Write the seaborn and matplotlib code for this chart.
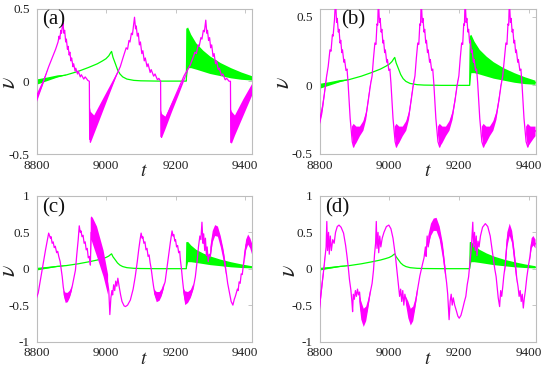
import numpy as np
import matplotlib
matplotlib.use("Agg")
import matplotlib.pyplot as plt
import seaborn as sns

NA = float("nan")

# ---------------- green signal (same in all panels) ----------------
g_t = [8800, 8830, 8860, 8885, 8920, 8950, 8975, 8990, 9000, 9008, 9013, 9016, 9020, 9027, 9033,
       9040, 9048, 9060, 9080, 9100, 9150, 9200, 9231, 9233, 9240, 9260, 9300, 9360, 9420]
g_v = [-0.006, 0.012, 0.032, 0.043, 0.068, 0.095, 0.12, 0.14, 0.155, 0.175, 0.195, 0.205, 0.165, 0.12, 0.08,
       0.05, 0.03, 0.015, 0.006, 0.003, 0.001, 0.001, 0.001, 0.36, 0.2, 0.17, 0.11, 0.055, 0.02]
g_bt = [8800, 8830, 8860, 8885, 8890, 9232, 9236, 9245, 9260, 9280, 9300, 9330, 9360, 9390, 9420]
g_lo = [-0.025, 0.0, 0.025, 0.041, NA, 0.0, 0.09, 0.09, 0.08, 0.065, 0.05, 0.035, 0.02, 0.01, 0.005]
g_hi = [0.012, 0.025, 0.04, 0.045, NA, 0.36, 0.37, 0.32, 0.26, 0.21, 0.17, 0.125, 0.09, 0.06, 0.035]

# ---------------- panel (a) magenta ----------------
a_t = [8800, 8818, 8835, 8845, 8855, 8862, 8865, 8867, 8870, 8872, 8874, 8876,
       8879, 8881, 8884, 8886, 8889, 8891, 8894, 8896, 8899, 8901, 8905, 8907, 8911, 8913, 8918, 8920,
       8926, 8929, 8936, 8940, 8948, 8952,
       8953, 8960, 8980, 9000, 9020, 9041,
       9050, 9058, 9062, 9066, 9069, 9073, 9076, 9079, 9082,
       9085, 9087, 9090, 9093, 9096, 9099, 9103, 9106, 9110, 9113, 9118, 9121, 9127, 9130, 9137, 9141,
       9148, 9152, 9157,
       9158, 9165, 9185, 9205, 9225, 9242,
       9250, 9256, 9260, 9265, 9268, 9273, 9276, 9280, 9283, 9287,
       9290, 9292, 9295, 9298, 9301, 9304, 9308, 9311, 9315, 9318, 9323, 9326, 9332, 9336, 9343, 9347,
       9354, 9358,
       9359, 9370, 9395, 9420]
a_v = [-0.12, -0.015, 0.10, 0.16, 0.22, 0.27, 0.31, 0.29, 0.35, 0.33, 0.37, 0.40,
       0.33, 0.35, 0.27, 0.29, 0.22, 0.24, 0.18, 0.20, 0.14, 0.16, 0.10, 0.12, 0.07, 0.09, 0.05, 0.07,
       0.03, 0.045, 0.015, 0.03, 0.005, 0.0,
       -0.40, -0.30, -0.22, -0.12, -0.01, 0.10,
       0.17, 0.23, 0.22, 0.28, 0.27, 0.33, 0.32, 0.38, 0.44,
       0.36, 0.38, 0.31, 0.33, 0.25, 0.27, 0.19, 0.21, 0.14, 0.16, 0.10, 0.12, 0.06, 0.08, 0.035, 0.05,
       0.01, 0.02, 0.0,
       -0.38, -0.30, -0.18, -0.07, 0.04, 0.11,
       0.16, 0.20, 0.19, 0.25, 0.24, 0.30, 0.29, 0.35, 0.34, 0.42,
       0.33, 0.35, 0.28, 0.30, 0.23, 0.25, 0.17, 0.19, 0.12, 0.14, 0.08, 0.09, 0.04, 0.05, 0.01, 0.02,
       0.0, 0.0,
       -0.42, -0.31, -0.18, -0.06]
a_bt = [8800, 8818, 8835, 8840,
        8953, 8956, 8966, 8980, 9000, 9020, 9041, 9045,
        9158, 9161, 9171, 9190, 9210, 9230, 9242, 9246,
        9359, 9362, 9371, 9395, 9420]
a_lo = [-0.15, -0.03, 0.10, NA,
        -0.42, -0.425, -0.363, -0.277, -0.153, -0.029, 0.10, NA,
        -0.39, -0.39, -0.33, -0.21, -0.09, 0.035, 0.11, NA,
        -0.42, -0.43, -0.374, -0.24, -0.10]
a_hi = [-0.09, 0.0, 0.10, NA,
        -0.17, -0.21, -0.235, -0.172, -0.083, 0.006, 0.10, NA,
        -0.20, -0.225, -0.243, -0.148, -0.048, 0.05, 0.11, NA,
        -0.19, -0.21, -0.235, -0.125, -0.02]

# ---------------- panel (b) magenta ----------------
b_t = [8800, 8808, 8814, 8820, 8825, 8830, 8833, 8837, 8839, 8843, 8846,
       8849, 8851, 8854, 8856, 8859, 8861, 8864, 8866, 8870, 8872, 8876, 8879, 8882, 8888, 8894, 8898,
       8906, 8916, 8926, 8934, 8940, 8946, 8951,
       8955, 8959, 8962, 8965, 8967, 8969,
       8972, 8974, 8977, 8979, 8982, 8984, 8987, 8989, 8993, 8995, 8999, 9002, 9005, 9011, 9017, 9021,
       9029, 9039, 9049, 9057, 9063, 9069, 9074,
       9078, 9082, 9085, 9088, 9090, 9092,
       9095, 9097, 9100, 9102, 9105, 9107, 9110, 9112, 9116, 9118, 9122, 9125, 9128, 9134, 9140, 9145,
       9153, 9163, 9173, 9182, 9189, 9195, 9200,
       9204, 9208, 9211, 9214, 9216, 9218,
       9221, 9223, 9226, 9228, 9231, 9233, 9236, 9238, 9242, 9244, 9248, 9251, 9254, 9260, 9266, 9271,
       9279, 9289, 9299, 9308, 9315, 9321, 9326,
       9331, 9335, 9338, 9341, 9343, 9345,
       9348, 9350, 9353, 9355, 9358, 9360, 9363, 9365, 9369, 9371, 9375, 9378, 9381, 9387, 9393, 9398,
       9406, 9414, 9420]
b_v = [-0.27, -0.17, -0.06, 0.06, 0.14, 0.26, 0.25, 0.37, 0.36, 0.48, 0.63,
       0.46, 0.49, 0.39, 0.41, 0.31, 0.33, 0.24, 0.26, 0.17, 0.19, 0.11, 0.12, 0.02, -0.24, -0.41, -0.45,
       -0.37, -0.34, -0.29, -0.21, -0.11, 0.0, 0.07,
       0.20, 0.31, 0.30, 0.45, 0.44, 0.63,
       0.46, 0.49, 0.39, 0.41, 0.31, 0.33, 0.24, 0.26, 0.17, 0.19, 0.11, 0.12, 0.02, -0.24, -0.41, -0.45,
       -0.37, -0.34, -0.29, -0.21, -0.11, 0.0, 0.07,
       0.20, 0.31, 0.30, 0.45, 0.44, 0.63,
       0.46, 0.49, 0.39, 0.41, 0.31, 0.33, 0.24, 0.26, 0.17, 0.19, 0.11, 0.12, 0.02, -0.24, -0.41, -0.45,
       -0.37, -0.34, -0.29, -0.21, -0.11, 0.0, 0.07,
       0.20, 0.31, 0.30, 0.45, 0.44, 0.63,
       0.46, 0.49, 0.39, 0.41, 0.31, 0.33, 0.24, 0.26, 0.17, 0.19, 0.11, 0.12, 0.02, -0.24, -0.41, -0.45,
       -0.37, -0.34, -0.29, -0.21, -0.11, 0.0, 0.07,
       0.20, 0.31, 0.30, 0.45, 0.44, 0.63,
       0.46, 0.49, 0.39, 0.41, 0.31, 0.33, 0.24, 0.26, 0.17, 0.19, 0.11, 0.12, 0.02, -0.24, -0.41, -0.45,
       -0.37, -0.35, -0.33]
b_bt = [8800, 8808, 8814, 8820, 8822, 8824,
        8893, 8898, 8906, 8916, 8926, 8934, 8940, 8946, 8950, 8952,
        9016, 9021, 9029, 9039, 9049, 9057, 9063, 9069, 9073, 9075,
        9140, 9145, 9153, 9163, 9173, 9182, 9189, 9195, 9200, 9202,
        9266, 9271, 9279, 9289, 9299, 9308, 9315, 9321, 9326, 9328,
        9393, 9398, 9406, 9414, 9420]
b_lo = [-0.30, -0.21, -0.09, 0.04, 0.09, NA,
        -0.36, -0.45, -0.42, -0.37, -0.33, -0.25, -0.13, -0.01, 0.07, NA,
        -0.36, -0.45, -0.42, -0.37, -0.33, -0.25, -0.13, -0.01, 0.07, NA,
        -0.36, -0.45, -0.42, -0.37, -0.33, -0.25, -0.13, -0.01, 0.07, NA,
        -0.36, -0.45, -0.42, -0.37, -0.33, -0.25, -0.13, -0.01, 0.07, NA,
        -0.36, -0.45, -0.42, -0.39, -0.37]
b_hi = [-0.24, -0.14, -0.04, 0.07, 0.09, NA,
        -0.30, -0.28, -0.30, -0.30, -0.26, -0.19, -0.08, 0.02, 0.07, NA,
        -0.30, -0.28, -0.30, -0.30, -0.26, -0.19, -0.08, 0.02, 0.07, NA,
        -0.30, -0.28, -0.30, -0.30, -0.26, -0.19, -0.08, 0.02, 0.07, NA,
        -0.30, -0.28, -0.30, -0.30, -0.26, -0.19, -0.08, 0.02, 0.07, NA,
        -0.30, -0.28, -0.30, -0.30, -0.30]

# ---------------- panel (c) magenta ----------------
c_t = [8800, 8805, 8816, 8826, 8835,
       8840, 8842, 8845, 8848, 8851, 8854, 8858, 8861, 8864, 8868, 8871, 8874, 8877, 8880,
       8884, 8890, 8896, 8902, 8908, 8912, 8916, 8920, 8923,
       8926, 8928, 8931, 8934, 8937, 8940, 8943, 8946, 8949, 8952, 8955,
       8957, 8962, 8974, 8993, 9005,
       9008, 9011, 9014, 9017, 9019, 9022, 9025, 9028, 9031, 9034, 9038, 9042, 9046, 9052, 9056, 9062,
       9070, 9078, 9084, 9090, 9094, 9098, 9101,
       9104, 9106, 9109, 9112, 9115, 9118, 9121, 9124, 9127, 9130, 9134, 9137, 9140,
       9146, 9154, 9160, 9166, 9170, 9175, 9180, 9185, 9190,
       9193, 9195, 9198, 9200, 9203, 9206, 9209, 9212, 9214, 9217, 9220, 9223,
       9228, 9236, 9244, 9252, 9257, 9262, 9266, 9270, 9273, 9276,
       9279, 9281, 9284, 9286, 9289, 9291, 9294, 9297, 9300,
       9307, 9314, 9322, 9330, 9338, 9345, 9350, 9356, 9360, 9365,
       9369, 9372, 9375, 9378, 9380, 9383, 9386, 9389, 9392, 9396, 9400,
       9403, 9409, 9415, 9420]
c_v = [-0.40, -0.33, -0.02, 0.26, 0.49,
       0.42, 0.44, 0.35, 0.37, 0.29, 0.31, 0.22, 0.24, 0.17, 0.10, 0.0, -0.11, -0.25, -0.34,
       -0.43, -0.42, -0.36, -0.26, -0.12, -0.02, 0.20, 0.40, 0.59,
       0.50, 0.52, 0.44, 0.46, 0.35, 0.37, 0.26, 0.28, 0.15, 0.17, 0.05,
       0.50, 0.52, 0.38, 0.05, -0.20,
       -0.30, -0.63, -0.40, -0.30, -0.36, -0.22, -0.30, -0.17, -0.24, -0.13, -0.25, -0.36, -0.45, -0.51,
       -0.52, -0.50,
       -0.43, -0.28, -0.11, 0.10, 0.26, 0.40, 0.49,
       0.42, 0.44, 0.35, 0.37, 0.26, 0.28, 0.17, 0.19, 0.08, 0.0, -0.15, -0.25, -0.33,
       -0.41, -0.40, -0.34, -0.24, -0.18, 0.0, 0.17, 0.36, 0.52,
       0.45, 0.47, 0.38, 0.40, 0.30, 0.32, 0.22, 0.24, 0.12, 0.0, -0.15, -0.28,
       -0.43, -0.42, -0.36, -0.24, -0.11, 0.10, 0.30, 0.45, 0.40, 0.64,
       0.35, 0.48, 0.25, 0.42, 0.18, 0.30, 0.10, 0.20, 0.17,
       0.44, 0.53, 0.51, 0.38, 0.20, -0.02, -0.20, -0.35, -0.45, -0.50,
       -0.42, -0.38, -0.33, -0.28, -0.30, -0.18, -0.20, -0.07, -0.08, 0.08, 0.25,
       0.33, 0.40, 0.35, 0.28]
c_bt = [8878, 8884, 8890, 8896, 8902, 8904,
        8956, 8958, 8962, 8974, 8993, 9006, 9008,
        9138, 9146, 9154, 9160, 9166, 9168,
        9222, 9228, 9236, 9244, 9252, 9254,
        9300, 9307, 9314, 9322, 9330, 9338, 9345, 9347,
        9398, 9403, 9409, 9415, 9420]
c_lo = [-0.36, -0.47, -0.46, -0.40, -0.30, NA,
        0.05, 0.40, 0.34, 0.17, -0.11, -0.36, NA,
        -0.34, -0.46, -0.44, -0.38, -0.28, NA,
        -0.32, -0.50, -0.47, -0.40, -0.28, NA,
        0.12, 0.36, 0.45, 0.44, 0.30, 0.12, -0.08, NA,
        0.05, 0.25, 0.33, 0.28, 0.20]
c_hi = [-0.30, -0.33, -0.33, -0.30, -0.24, NA,
        0.70, 0.72, 0.70, 0.58, 0.25, -0.08, NA,
        -0.28, -0.32, -0.32, -0.28, -0.20, NA,
        -0.26, -0.31, -0.32, -0.29, -0.20, NA,
        0.30, 0.52, 0.60, 0.58, 0.45, 0.27, 0.05, NA,
        0.20, 0.40, 0.47, 0.42, 0.35]

# ---------------- panel (d) magenta ----------------
d_t = [8800, 8804, 8811, 8816, 8819, 8821, 8823, 8826, 8828, 8831, 8834, 8838, 8842,
       8846, 8851, 8856, 8862, 8869, 8875, 8879, 8883, 8886, 8890, 8893, 8895, 8897, 8900, 8903, 8906,
       8909, 8912, 8915,
       8920, 8927, 8934, 8940, 8946, 8951, 8955, 8958, 8961, 8963, 8965, 8968, 8970, 8973, 8976, 8980,
       8985, 8992, 8999, 9005, 9011, 9018, 9023, 9027, 9030, 9033, 9036, 9039, 9042, 9045, 9048,
       9055, 9062, 9069, 9075, 9081, 9088, 9095, 9100, 9104, 9106, 9109, 9112,
       9120, 9128, 9136, 9145, 9154, 9162, 9165, 9168, 9172, 9175, 9178, 9181, 9184, 9188, 9193, 9197,
       9201, 9206, 9211, 9216, 9220, 9224, 9228, 9232, 9236, 9240, 9242, 9245, 9247, 9250, 9252, 9255,
       9258, 9262,
       9268, 9276, 9283, 9290, 9298, 9303, 9307, 9310, 9313, 9317, 9320, 9323, 9326, 9329, 9333,
       9339, 9346, 9353, 9360, 9366, 9370, 9373, 9376, 9379, 9382, 9385, 9388, 9391, 9395, 9400, 9404,
       9409, 9414, 9420]
d_v = [-0.55, -0.35, -0.06, 0.17, 0.30, 0.65, 0.25, 0.50, 0.20, 0.45, 0.25, 0.40, 0.35,
       0.50, 0.58, 0.60, 0.57, 0.49, 0.32, 0.17, 0.0, -0.15, -0.29, -0.45, -0.59, -0.35, -0.42, -0.30,
       -0.38, -0.28, -0.36, -0.32,
       -0.58, -0.68, -0.62, -0.48, -0.32, -0.20, -0.02, 0.20, 0.35, 0.65, 0.28, 0.50, 0.22, 0.45, 0.30,
       0.42,
       0.50, 0.58, 0.60, 0.55, 0.42, 0.17, -0.06, -0.25, -0.38, -0.28, -0.45, -0.30, -0.50, -0.35, -0.42,
       -0.57, -0.67, -0.62, -0.48, -0.30, -0.10, 0.05, 0.15, 0.30, 0.17, 0.45, 0.30,
       0.53, 0.60, 0.61, 0.49, 0.25, -0.08, -0.20, -0.35, -0.70, -0.45, -0.35, -0.50, -0.40, -0.50, -0.58,
       -0.65,
       -0.68, -0.64, -0.55, -0.45, -0.38, -0.22, -0.11, 0.10, 0.30, 0.64, 0.30, 0.50, 0.25, 0.45, 0.18,
       0.38, 0.30, 0.45,
       0.57, 0.62, 0.58, 0.45, 0.17, 0.0, -0.11, -0.25, -0.40, -0.52, -0.30, -0.38, -0.25, -0.10, 0.05,
       0.40, 0.53, 0.43, 0.15, -0.12, -0.25, -0.38, -0.30, -0.45, -0.35, -0.54, -0.40, -0.30, -0.12,
       0.05, 0.17,
       0.35, 0.38, 0.34]
d_bt = [8800, 8806, 8812, 8816, 8818,
        8914, 8920, 8927, 8934, 8940, 8946, 8948,
        9048, 9055, 9062, 9069, 9075, 9081, 9083,
        9112, 9120, 9128, 9136, 9145, 9154, 9162, 9164,
        9333, 9339, 9346, 9353, 9360, 9366, 9368,
        9404, 9409, 9414, 9420]
d_lo = [-0.60, -0.35, -0.08, 0.12, NA,
        -0.45, -0.70, -0.80, -0.72, -0.55, -0.35, NA,
        -0.48, -0.68, -0.78, -0.72, -0.55, -0.35, NA,
        0.30, 0.45, 0.52, 0.52, 0.40, 0.15, -0.15, NA,
        -0.05, 0.30, 0.45, 0.35, 0.05, -0.20, NA,
        0.10, 0.28, 0.32, 0.28]
d_hi = [-0.48, -0.20, 0.02, 0.20, NA,
        -0.35, -0.45, -0.55, -0.52, -0.42, -0.28, NA,
        -0.38, -0.45, -0.55, -0.52, -0.42, -0.26, NA,
        0.45, 0.62, 0.69, 0.70, 0.58, 0.35, 0.0, NA,
        0.15, 0.50, 0.62, 0.52, 0.25, -0.05, NA,
        0.25, 0.42, 0.45, 0.40]

panel_labels = ["(a)", "(b)", "(c)", "(d)"]
x_ticks = [8800, 9000, 9200, 9400]
x_ticklabels = ["8800", "9000", "9200", "9400"]
y_ticks_top = [-0.5, 0, 0.5]
y_ticklabels_top = ["-0.5", "0", "0.5"]
y_ticks_bot = [-1, -0.5, 0, 0.5, 1]
y_ticklabels_bot = ["-1", "-0.5", "0", "0.5", "1"]

MAG = "#ff00ff"
GRN = "#00ff00"
FRAME = "#bdbdbd"

sns.set_theme(style="white")
plt.rcParams["font.family"] = ["Liberation Serif", "DejaVu Serif"]
plt.rcParams["mathtext.fontset"] = "stix"
plt.rcParams["axes.unicode_minus"] = False

fig = plt.figure(figsize=(5.5, 3.72), dpi=100)

W, H = 550.0, 372.0
layout = [
    # left, top, right, bottom in pixels
    (36.5, 8.5, 252.0, 154.0),
    (319.5, 8.5, 535.5, 154.0),
    (36.5, 196.0, 252.0, 341.5),
    (319.5, 196.0, 535.5, 341.5),
]
panels = [
    (a_t, a_v, a_bt, a_lo, a_hi, (-0.5, 0.5), y_ticks_top, y_ticklabels_top, -0.075, 0.026),
    (b_t, b_v, b_bt, b_lo, b_hi, (-0.5, 0.562), y_ticks_top, y_ticklabels_top, -0.118, 0.10),
    (c_t, c_v, c_bt, c_lo, c_hi, (-1, 1), y_ticks_bot, y_ticklabels_bot, -0.075, 0.026),
    (d_t, d_v, d_bt, d_lo, d_hi, (-1, 1), y_ticks_bot, y_ticklabels_bot, -0.092, 0.025),
]

for i, ((l, t, r, b), p) in enumerate(zip(layout, panels)):
    mt, mv, bt, blo, bhi, ylim, yt, ytl, ylx, labx = p
    assert len(mt) == len(mv), (i, len(mt), len(mv))
    assert len(bt) == len(blo) == len(bhi), (i, len(bt), len(blo), len(bhi))
    ax = fig.add_axes([l / W, 1 - b / H, (r - l) / W, (b - t) / H])
    # green
    ax.fill_between(g_bt, g_lo, g_hi, color=GRN, lw=0, zorder=2)
    sns.lineplot(x=g_t, y=g_v, ax=ax, color=GRN, lw=0.9, sort=False, estimator=None, zorder=2)
    # magenta
    ax.fill_between(bt, blo, bhi, color=MAG, lw=0, zorder=3)
    sns.lineplot(x=mt, y=mv, ax=ax, color=MAG, lw=0.9, sort=False, estimator=None, zorder=3)

    ax.set_xlim(8800, 9420)
    ax.set_ylim(*ylim)
    ax.set_xticks(x_ticks)
    ax.set_xticklabels(x_ticklabels)
    ax.set_yticks(yt)
    ax.set_yticklabels(ytl)
    ax.tick_params(direction="in", length=3, width=0.6, color=FRAME, top=True, right=True,
                   labelsize=9.5, labelcolor="#222222")
    ax.tick_params(axis="y", pad=5)
    ax.tick_params(axis="x", pad=4)
    for s in ax.spines.values():
        s.set_color(FRAME)
        s.set_linewidth(0.8)
        s.set_visible(True)
    ax.set_xlabel(r"$t$", fontsize=14, labelpad=-6, color="#222222")
    ax.set_ylabel(r"$\nu$", fontsize=17, color="#222222")
    ax.yaxis.set_label_coords(ylx, 0.49)
    ax.text(labx, 0.985, panel_labels[i], transform=ax.transAxes, ha="left", va="top",
            fontsize=15, color="#111111")

fig.savefig("out.png", dpi=100)
